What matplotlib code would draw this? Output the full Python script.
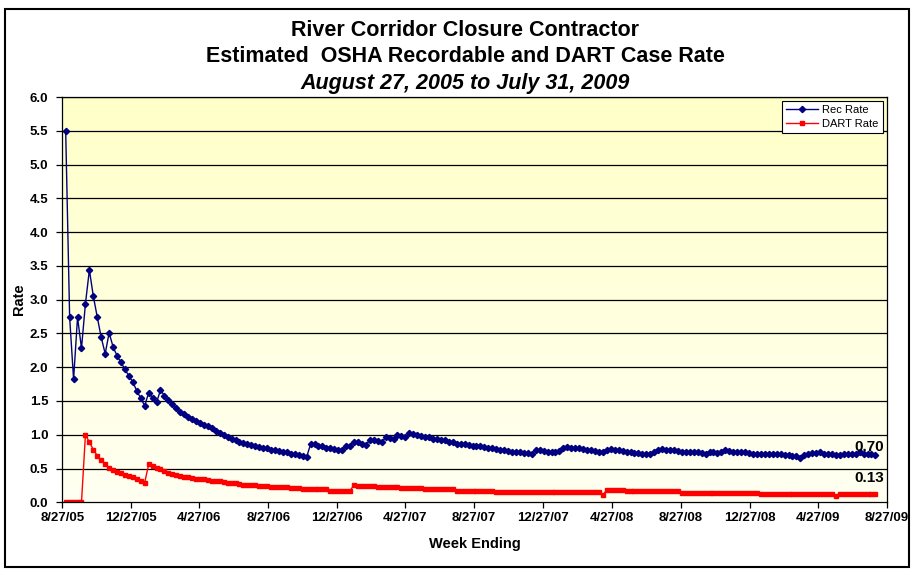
import numpy as np
import pandas as pd
import matplotlib
matplotlib.use("Agg")
import matplotlib.pyplot as plt
from matplotlib.patches import Rectangle
from matplotlib.colors import LinearSegmentedColormap

# ---------------- data ----------------
start_week = "2005-09-02"
rec_rate = [
    5.50, 2.74, 1.82, 2.74, 2.28, 2.94, 3.44, 3.05, 2.74, 2.44,
    2.20, 2.51, 2.30, 2.17, 2.07, 1.97, 1.87, 1.78, 1.65, 1.54,
    1.43, 1.62, 1.55, 1.48, 1.66, 1.58, 1.52, 1.45, 1.39, 1.33,
    1.30, 1.27, 1.23, 1.20, 1.17, 1.15, 1.13, 1.10, 1.06, 1.02,
    0.99, 0.96, 0.93, 0.92, 0.90, 0.88, 0.87, 0.85, 0.84, 0.82,
    0.81, 0.80, 0.78, 0.77, 0.76, 0.75, 0.74, 0.72, 0.71, 0.70,
    0.69, 0.67, 0.86, 0.86, 0.84, 0.83, 0.81, 0.81, 0.79, 0.78,
    0.77, 0.84, 0.84, 0.90, 0.89, 0.87, 0.85, 0.92, 0.92, 0.91,
    0.89, 0.96, 0.95, 0.93, 0.99, 0.98, 0.96, 1.02, 1.01, 0.99,
    0.98, 0.97, 0.96, 0.94, 0.93, 0.92, 0.92, 0.89, 0.89, 0.87,
    0.86, 0.86, 0.85, 0.84, 0.84, 0.83, 0.82, 0.81, 0.80, 0.79,
    0.78, 0.77, 0.76, 0.75, 0.75, 0.74, 0.73, 0.73, 0.71, 0.78,
    0.77, 0.76, 0.75, 0.75, 0.74, 0.76, 0.80, 0.82, 0.81, 0.80,
    0.80, 0.79, 0.78, 0.77, 0.76, 0.75, 0.75, 0.77, 0.79, 0.78,
    0.77, 0.76, 0.75, 0.74, 0.73, 0.73, 0.72, 0.72, 0.71, 0.75,
    0.77, 0.79, 0.78, 0.77, 0.77, 0.76, 0.75, 0.75, 0.75, 0.74,
    0.74, 0.73, 0.71, 0.74, 0.75, 0.73, 0.75, 0.77, 0.76, 0.75,
    0.74, 0.74, 0.74, 0.73, 0.72, 0.72, 0.72, 0.72, 0.71, 0.71,
    0.71, 0.71, 0.70, 0.70, 0.69, 0.68, 0.66, 0.70, 0.72, 0.73,
    0.73, 0.74, 0.72, 0.71, 0.71, 0.70, 0.70, 0.71, 0.71, 0.72,
    0.72, 0.74, 0.72, 0.72, 0.71, 0.70,
]
dart_rate = [
    0.00, 0.00, 0.00, 0.00, 0.00, 1.00, 0.89, 0.78, 0.69, 0.62,
    0.56, 0.51, 0.48, 0.45, 0.43, 0.41, 0.39, 0.37, 0.34, 0.32,
    0.29, 0.56, 0.54, 0.51, 0.49, 0.46, 0.44, 0.42, 0.40, 0.39,
    0.38, 0.37, 0.36, 0.35, 0.34, 0.34, 0.33, 0.32, 0.32, 0.31,
    0.30, 0.28, 0.28, 0.28, 0.27, 0.26, 0.26, 0.25, 0.25, 0.24,
    0.24, 0.24, 0.23, 0.23, 0.22, 0.22, 0.22, 0.21, 0.21, 0.21,
    0.20, 0.20, 0.19, 0.19, 0.19, 0.19, 0.19, 0.17, 0.17, 0.17,
    0.17, 0.17, 0.17, 0.26, 0.24, 0.24, 0.24, 0.24, 0.24, 0.22,
    0.22, 0.22, 0.22, 0.22, 0.22, 0.21, 0.21, 0.21, 0.21, 0.21,
    0.21, 0.20, 0.20, 0.20, 0.20, 0.20, 0.20, 0.20, 0.20, 0.17,
    0.17, 0.17, 0.17, 0.17, 0.17, 0.17, 0.17, 0.17, 0.17, 0.15,
    0.15, 0.15, 0.15, 0.15, 0.15, 0.15, 0.15, 0.15, 0.15, 0.15,
    0.15, 0.15, 0.15, 0.15, 0.15, 0.15, 0.15, 0.15, 0.15, 0.15,
    0.15, 0.15, 0.15, 0.15, 0.15, 0.15, 0.11, 0.18, 0.18, 0.18,
    0.18, 0.18, 0.16, 0.16, 0.16, 0.16, 0.16, 0.16, 0.16, 0.16,
    0.16, 0.16, 0.16, 0.16, 0.16, 0.16, 0.14, 0.14, 0.14, 0.14,
    0.14, 0.14, 0.14, 0.14, 0.14, 0.14, 0.14, 0.14, 0.14, 0.14,
    0.14, 0.14, 0.14, 0.14, 0.14, 0.14, 0.12, 0.12, 0.12, 0.12,
    0.12, 0.12, 0.12, 0.12, 0.12, 0.12, 0.12, 0.12, 0.12, 0.12,
    0.12, 0.12, 0.12, 0.12, 0.12, 0.09, 0.13, 0.13, 0.13, 0.13,
    0.13, 0.13, 0.13, 0.13, 0.13, 0.13,
]
x_tick_dates = ["2005-08-27", "2005-12-27", "2006-04-27", "2006-08-27",
                "2006-12-27", "2007-04-27", "2007-08-27", "2007-12-27",
                "2008-04-27", "2008-08-27", "2008-12-27", "2009-04-27",
                "2009-08-27"]
x_tick_labels = ["8/27/05", "12/27/05", "4/27/06", "8/27/06", "12/27/06",
                 "4/27/07", "8/27/07", "12/27/07", "4/27/08", "8/27/08",
                 "12/27/08", "4/27/09", "8/27/09"]
y_ticks = [0.0, 0.5, 1.0, 1.5, 2.0, 2.5, 3.0, 3.5, 4.0, 4.5, 5.0, 5.5, 6.0]
series_names = ["Rec Rate", "DART Rate"]
end_labels = ["0.70", "0.13"]
title_lines = ["River Corridor Closure Contractor",
               "Estimated  OSHA Recordable and DART Case Rate",
               "August 27, 2005 to July 31, 2009"]

# ---------------- plot ----------------
plt.rcParams['font.family'] = ['Liberation Sans', 'DejaVu Sans']

W, H = 914, 572
fig = plt.figure(figsize=(W / 100, H / 100), dpi=100)
fig.patch.set_facecolor("white")

# outer chart border
fig.patches.append(Rectangle((5 / W, 1 - 567 / H), 904 / W, 558 / H,
                             transform=fig.transFigure, fill=False,
                             edgecolor="black", linewidth=1.5))

L, R, T, B = 62.3, 886.7, 97.0, 502.3
ax = fig.add_axes([L / W, 1 - B / H, (R - L) / W, (B - T) / H])

dates = pd.date_range(start_week, periods=len(rec_rate), freq="7D")
xt = pd.to_datetime(x_tick_dates)

ax.set_xlim(xt[0], xt[-1])
ax.set_ylim(0, 6)

# gradient background
grad = np.linspace(0, 1, 256).reshape(-1, 1)
cmap = LinearSegmentedColormap.from_list("bg", ["#FFFFF2", "#FFFFC8"])
ax.imshow(grad, aspect="auto", cmap=cmap, origin="lower",
          extent=[0, 1, 0, 1], transform=ax.transAxes, zorder=0)

for yv in y_ticks[1:]:
    ax.axhline(yv, color="black", linewidth=0.9, zorder=1)

ax.plot(dates, rec_rate, color="#000080", marker="D", markersize=3.2,
        linewidth=1.0, label=series_names[0], zorder=3)
ax.plot(dates, dart_rate, color="#FF0000", marker="s", markersize=3.0,
        linewidth=1.0, label=series_names[1], zorder=3)

ax.set_xticks(xt)
ax.set_xticklabels(x_tick_labels, fontsize=9.5, fontweight="bold")
ax.set_yticks(y_ticks)
ax.set_yticklabels([f"{v:.1f}" for v in y_ticks], fontsize=9.5,
                   fontweight="bold")
ax.tick_params(axis="both", direction="out", length=4, width=0.9,
               color="black", pad=3)
ax.tick_params(axis="y", pad=6)

for s in ax.spines.values():
    s.set_color("black")
    s.set_linewidth(0.9)
    s.set_zorder(4)

ax.set_xlabel("Week Ending", fontsize=10.5, fontweight="bold", labelpad=9)
ax.set_ylabel("Rate", fontsize=10.5, fontweight="bold", labelpad=3)

leg = ax.legend(loc="upper right", fontsize=8, frameon=True, fancybox=False,
                edgecolor="black", framealpha=1, borderaxespad=0.35,
                handlelength=2.8, borderpad=0.4, labelspacing=0.3,
                handletextpad=0.4)
leg.get_frame().set_linewidth(0.8)

ax.annotate(end_labels[0], xy=(dates[-1], rec_rate[-1]),
            xytext=(6, 6), textcoords="offset points", ha="right",
            va="center", fontsize=11, fontweight="bold", zorder=5)
ax.annotate(end_labels[1], xy=(dates[-1], dart_rate[-1]),
            xytext=(6, 11.5), textcoords="offset points", ha="right",
            va="center", fontsize=11, fontweight="bold", zorder=5)

cx = 465 / W
fig.text(cx, 1 - 30 / H, title_lines[0], ha="center", va="center",
         fontsize=15.5, fontweight="bold")
fig.text(cx, 1 - 57 / H, title_lines[1], ha="center", va="center",
         fontsize=15.5, fontweight="bold")
fig.text(cx, 1 - 84 / H, title_lines[2], ha="center", va="center",
         fontsize=15.5, fontweight="bold", style="italic")

fig.savefig("out.png", dpi=100)
